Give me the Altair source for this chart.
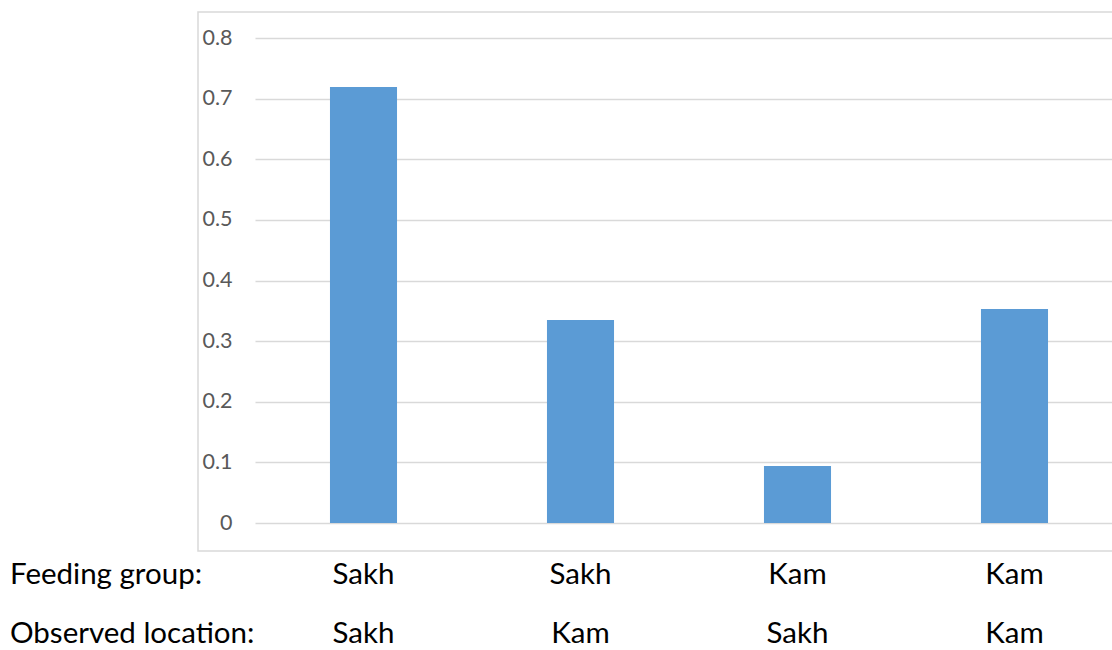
import altair as alt
import pandas as pd

# Share of fish per feeding group / observed location combination
feeding_group = ["Sakh", "Sakh", "Kam", "Kam"]
observed_location = ["Sakh", "Kam", "Sakh", "Kam"]
values = [0.719, 0.335, 0.094, 0.353]
y_ticks = [0, 0.1, 0.2, 0.3, 0.4, 0.5, 0.6, 0.7, 0.8]
row_titles = ["Feeding group:", "Observed location:"]

FONT = "Lato"
BAR_COLOR = "#5B9BD5"
GRID_COLOR = "#D9D9D9"
LABEL_SIZE = 29.5
ROW1_Y = 546   # baselines of the two label rows, relative to the plot top
ROW2_Y = 605

df = pd.DataFrame({
    "combo": [str(i + 1) for i in range(len(values))],
    "feeding": feeding_group,
    "observed": observed_location,
    "value": values,
})

x_scale = alt.Scale(range=[0, 868], paddingInner=0.691, paddingOuter=0.3455)
x_enc = alt.X("combo:N", sort=None, scale=x_scale, axis=None)

base = alt.Chart(df)

frame = alt.Chart(pd.DataFrame({"k": [0]})).mark_rect(
    fill=None, stroke=GRID_COLOR, strokeWidth=1.5
).encode(
    x=alt.value(-57), x2=alt.value(880), y=alt.value(-26), y2=alt.value(513)
)

bars = base.mark_bar(color=BAR_COLOR).encode(
    x=x_enc,
    y=alt.Y(
        "value:Q",
        scale=alt.Scale(domain=[0, 0.8], nice=False),
        axis=alt.Axis(
            values=y_ticks,
            format="~g",
            title=None,
            domain=False,
            ticks=False,
            grid=True,
            gridColor=GRID_COLOR,
            gridWidth=1.5,
            labelFont=FONT,
            labelFontSize=21.5,
            labelColor="#595959",
            labelPadding=23,
        ),
    ),
)

feeding_text = base.mark_text(
    font=FONT, fontSize=LABEL_SIZE, color="black", baseline="alphabetic"
).encode(x=x_enc, y=alt.value(ROW1_Y), text="feeding:N")

observed_text = base.mark_text(
    font=FONT, fontSize=LABEL_SIZE, color="black", baseline="alphabetic"
).encode(x=x_enc, y=alt.value(ROW2_Y), text="observed:N")

titles = alt.Chart(
    pd.DataFrame({"t": row_titles, "yy": [ROW1_Y, ROW2_Y]})
).mark_text(
    font=FONT, fontSize=LABEL_SIZE, color="black", align="left", baseline="alphabetic"
).encode(x=alt.value(-245), y=alt.Y("yy:Q", scale=None), text="t:N")

chart = alt.layer(frame, bars, feeding_text, observed_text, titles).properties(
    width=857,
    height=485,
    autosize=alt.AutoSizeParams(type="none"),
    padding={"left": 255, "top": 38, "right": 0, "bottom": 127},
).configure_view(stroke=None)

chart.save("out.html", embed_options={"renderer": "svg", "actions": False})
